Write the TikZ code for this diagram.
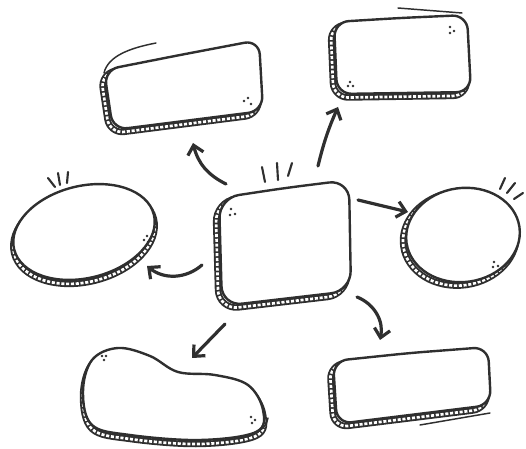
\documentclass[tikz,border=0pt]{standalone}
\usetikzlibrary{arrows.meta}

\definecolor{ink}{HTML}{2F2F2F}

% shadow band, white fill, then the outline on top
\newcommand{\sketchshape}[3]{%
  \draw[band, xshift=#2, yshift=#3] #1;
  \draw[rungs, xshift=#2, yshift=#3] #1;
  \fill[white] #1;
  \draw[outline] #1;
}

\begin{document}
\begin{tikzpicture}[
    x=0.75pt, y=-0.75pt,
    outline/.style={draw=ink, line width=1.8pt, line join=round},
    band/.style={draw=ink, line width=4.8pt, line join=round},
    rungs/.style={draw=white, line width=2pt, dash pattern=on 2.3pt off 1.3pt},
    tick/.style={draw=ink, line width=1.6pt, line cap=round},
    accent/.style={draw=ink, line width=1.1pt, line cap=round},
    speck/.style={fill=ink},
    link/.style={draw=ink, line width=2.4pt, line cap=round,
                 -{Straight Barb[length=6.5pt, width=12pt]}}
  ]
  \useasboundingbox (0,0) rectangle (526,449);

  % boxes
  \sketchshape{[rounded corners=11pt] (180,55) -- (259,40) -- (263,111) -- (113,130) -- (104,70) -- cycle}{-2.6pt}{-2.8pt}
  \sketchshape{[rounded corners=11pt] (400,18) -- (467,15) -- (471,92) -- (337,94) -- (334,22) -- cycle}{-2.6pt}{-2.8pt}
  \sketchshape{[rounded corners=15pt] (285,188) -- (349,180) -- (351,291) -- (222,306) -- (219,198) -- cycle}{-2.6pt}{-2.8pt}
  \sketchshape{[rounded corners=11pt] (410,353) -- (488,347) -- (491,405) -- (337,424) -- (333,361) -- cycle}{-2.6pt}{-2.8pt}

  % ellipses
  \sketchshape{[rotate around={14:(84,232)}] (84,232) ellipse [x radius=72, y radius=46]}{0pt}{-3pt}
  \sketchshape{[rotate around={8:(463,235)}] (463,235) ellipse [x radius=57, y radius=47]}{-2.4pt}{-2.6pt}

  % blob
  \sketchshape{plot[smooth cycle, tension=0.6] coordinates {(92,360) (118,348) (150,356) (178,372) (215,375) (248,385) (263,410) (256,432) (200,440) (130,435) (92,425) (83,392)}}{0pt}{-3pt}

  % accents
  \draw[accent] (104,73) .. controls (108,56) and (130,48) .. (156,43);
  \draw[accent] (398,8) -- (462,13);
  \draw[accent] (238,439) .. controls (256,435) and (266,429) .. (268,418);
  \draw[accent] (420,425) -- (490,413);

  \foreach \a/\b/\c/\d in {262/167/265/182, 277/163/278/180, 292/163/288/176,
                           48/178/55/187, 58/173/60/185, 68/172/67/183,
                           500/189/505/178, 507/193/515/183, 514/199/523/193}
    \draw[tick] (\a,\b) -- (\c,\d);

  \foreach \p in {(244,101), (248,98), (251,104), (450,27), (454,31), (450,33),
                  (350,82), (353,86), (348,86), (231,209), (235,214), (230,215),
                  (147,236), (144,240), (148,242), (494,262), (498,266), (493,267),
                  (102,356), (106,356), (104,360), (251,417), (255,420), (252,423)}
    \fill[speck] \p circle (1.3);

  % arrows
  \coordinate (hubNW) at (226,184);
  \coordinate (boxNW) at (193,143);
  \coordinate (hubN)  at (318,166);
  \coordinate (boxNE) at (338,107);
  \coordinate (hubE)  at (358,200);
  \coordinate (ovalE) at (408,212);
  \coordinate (hubSE) at (357,297);
  \coordinate (boxSE) at (380,340);
  \coordinate (hubSW) at (225,324);
  \coordinate (blob)  at (192,358);
  \coordinate (hubW)  at (202,265);
  \coordinate (ovalW) at (147,266);

  \draw[link] (hubNW) to[bend left=25] (boxNW);
  \draw[link] (hubN)  to[bend left=5] (boxNE);
  \draw[link] (hubE)  -- (ovalE);
  \draw[link] (hubSE) to[bend left=40] (boxSE);
  \draw[link] (hubSW) -- (blob);
  \draw[link] (hubW)  to[bend left=40] (ovalW);
\end{tikzpicture}
\end{document}
